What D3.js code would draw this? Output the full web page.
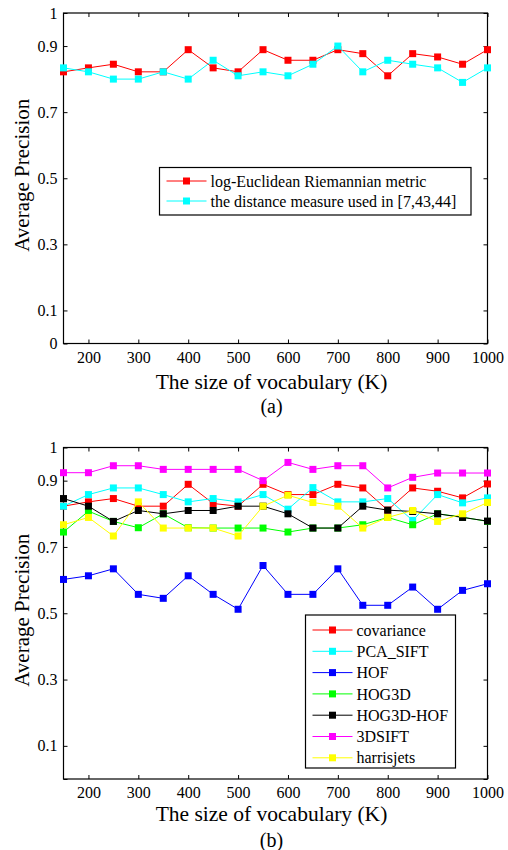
<!DOCTYPE html>
<html>
<head>
<meta charset="utf-8">
<script src="https://cdn.jsdelivr.net/npm/d3@7"></script>
<style>
  html, body { margin: 0; padding: 0; background: #fff; }
  svg { display: block; font-family: "Liberation Serif", "Times New Roman", serif; }
</style>
</head>
<body>
<svg id="chart" width="508" height="850"></svg>
<script>
// Vocabulary sizes (K) shared by both panels
const vocab = [150, 200, 250, 300, 350, 400, 450, 500, 550, 600, 650, 700, 750, 800, 850, 900, 950, 1000];
const xTicks = [200, 300, 400, 500, 600, 700, 800, 900, 1000];
const yTicksA = [0, 0.1, 0.3, 0.5, 0.7, 0.9, 1];
const yTicksB = [0.1, 0.3, 0.5, 0.7, 0.9, 1];
const yTickMarks = [0, 0.1, 0.3, 0.5, 0.7, 0.9, 1];

// Panel (a)
const namesA = ["log-Euclidean Riemannian metric", "the distance measure used in [7,43,44]"];
const colorsA = ["#ff0000", "#00ffff"];
const logEuclidean = [0.822, 0.834, 0.845, 0.822, 0.822, 0.889, 0.834, 0.822, 0.889, 0.857, 0.857, 0.889, 0.877, 0.810, 0.877, 0.867, 0.845, 0.889];
const distanceMeasure = [0.834, 0.822, 0.800, 0.800, 0.822, 0.800, 0.857, 0.810, 0.822, 0.810, 0.845, 0.900, 0.822, 0.857, 0.845, 0.834, 0.790, 0.834];

// Panel (b)
const namesB = ["covariance", "PCA_SIFT", "HOF", "HOG3D", "HOG3D-HOF", "3DSIFT", "harrisjets"];
const colorsB = ["#ff0000", "#00ffff", "#0000ff", "#00ff00", "#000000", "#ff00ff", "#ffff00"];
const covariance = [0.823, 0.836, 0.846, 0.823, 0.823, 0.889, 0.831, 0.823, 0.889, 0.858, 0.858, 0.889, 0.878, 0.811, 0.878, 0.868, 0.848, 0.890];
const pcaSift    = [0.823, 0.858, 0.878, 0.878, 0.858, 0.836, 0.846, 0.836, 0.858, 0.814, 0.879, 0.836, 0.836, 0.846, 0.780, 0.858, 0.833, 0.848];
const hof        = [0.602, 0.613, 0.634, 0.557, 0.545, 0.613, 0.557, 0.512, 0.644, 0.557, 0.557, 0.634, 0.524, 0.524, 0.579, 0.512, 0.569, 0.589];
const hog3d      = [0.745, 0.808, 0.777, 0.758, 0.800, 0.758, 0.757, 0.757, 0.757, 0.745, 0.757, 0.757, 0.767, 0.789, 0.767, 0.800, 0.790, 0.777];
const hog3dHof   = [0.846, 0.823, 0.777, 0.810, 0.800, 0.810, 0.810, 0.823, 0.823, 0.800, 0.757, 0.757, 0.823, 0.811, 0.807, 0.800, 0.789, 0.778];
const sift3d     = [0.924, 0.924, 0.945, 0.945, 0.934, 0.934, 0.934, 0.934, 0.900, 0.955, 0.934, 0.945, 0.945, 0.878, 0.910, 0.923, 0.923, 0.923];
const harrisjets = [0.767, 0.789, 0.733, 0.836, 0.757, 0.757, 0.757, 0.733, 0.823, 0.856, 0.834, 0.823, 0.757, 0.789, 0.810, 0.777, 0.800, 0.834];

const svg = d3.select("#chart");

function drawPanel(cfg) {
  const x = d3.scaleLinear().domain([150, 1000]).range([63.5, 487.5]);
  const y = d3.scaleLinear().domain([0, 1]).range([cfg.bottom, cfg.top]);
  const g = svg.append("g");

  // frame
  g.append("rect")
    .attr("x", x(150)).attr("y", y(1))
    .attr("width", x(1000) - x(150)).attr("height", y(0) - y(1))
    .attr("fill", "none").attr("stroke", "#000").attr("stroke-width", 1.2);

  // axes with inward ticks
  const tick = 4;
  const xb = g.append("g").attr("transform", `translate(0,${y(0)})`)
    .call(d3.axisBottom(x).tickValues(xTicks).tickSize(0).tickPadding(8).tickFormat(d3.format("d")));
  const xt = g.append("g").attr("transform", `translate(0,${y(0)})`)
    .call(d3.axisTop(x).tickValues(xTicks).tickSize(tick).tickFormat(""));
  const xtop = g.append("g").attr("transform", `translate(0,${y(1)})`)
    .call(d3.axisBottom(x).tickValues(xTicks).tickSize(tick).tickFormat(""));
  const yl = g.append("g").attr("transform", `translate(${x(150)},0)`)
    .call(d3.axisLeft(y).tickValues(cfg.yLabels).tickSize(0).tickPadding(6).tickFormat(d => d === 0 || d === 1 ? String(d) : d3.format(".1f")(d)));
  const ylt = g.append("g").attr("transform", `translate(${x(150)},0)`)
    .call(d3.axisRight(y).tickValues(yTickMarks).tickSize(tick).tickFormat(""));
  const yr = g.append("g").attr("transform", `translate(${x(1000)},0)`)
    .call(d3.axisLeft(y).tickValues(yTickMarks).tickSize(tick).tickFormat(""));
  [xb, xt, xtop, yl, ylt, yr].forEach(a => {
    a.select(".domain").remove();
    a.selectAll("line").attr("stroke", "#000");
    a.selectAll("text").attr("font-family", "Liberation Serif").attr("font-size", 16).attr("fill", "#000");
  });

  // series
  const line = d3.line().x((d, i) => x(vocab[i])).y(d => y(d));
  cfg.series.forEach((s, k) => {
    g.append("path").datum(s).attr("d", line)
      .attr("fill", "none").attr("stroke", cfg.colors[k]).attr("stroke-width", 1);
    g.selectAll(null).data(s).enter().append("rect")
      .attr("x", (d, i) => x(vocab[i]) - 3.5).attr("y", d => y(d) - 3.5)
      .attr("width", 7).attr("height", 7).attr("fill", cfg.colors[k]);
  });

  // axis titles
  g.append("text").attr("x", (x(150) + x(1000)) / 2 - 4).attr("y", cfg.xTitleY)
    .attr("text-anchor", "middle").attr("font-size", 21.5).text("The size of vocabulary (K)");
  g.append("text").attr("transform", `translate(29,${(y(0) + y(1)) / 2 - 3}) rotate(-90)`)
    .attr("text-anchor", "middle").attr("font-size", 21).text("Average Precision");
  g.append("text").attr("x", (x(150) + x(1000)) / 2 - 4).attr("y", cfg.capY)
    .attr("text-anchor", "middle").attr("font-size", 20).text(cfg.caption);

  // legend
  const L = cfg.legend;
  g.append("rect").attr("x", L.x).attr("y", L.y).attr("width", L.w).attr("height", L.h)
    .attr("fill", "#fff").attr("stroke", "#000").attr("stroke-width", 1.2);
  cfg.names.forEach((n, k) => {
    const cy = L.y + L.first + k * L.step;
    g.append("line").attr("x1", L.x + 7).attr("x2", L.x + 47).attr("y1", cy).attr("y2", cy)
      .attr("stroke", cfg.colors[k]).attr("stroke-width", 1);
    g.append("rect").attr("x", L.x + 27 - 3.5).attr("y", cy - 3.5).attr("width", 7).attr("height", 7)
      .attr("fill", cfg.colors[k]);
    g.append("text").attr("x", L.x + 51).attr("y", cy).attr("dy", "0.35em")
      .attr("font-size", 16).text(n);
  });
}

drawPanel({
  top: 13, bottom: 343.5, yLabels: yTicksA,
  series: [logEuclidean, distanceMeasure], colors: colorsA, names: namesA,
  xTitleY: 389, capY: 413, caption: "(a)",
  legend: { x: 159.5, y: 167.5, w: 311.5, h: 47.5, first: 13.5, step: 20 }
});

drawPanel({
  top: 447.5, bottom: 779, yLabels: yTicksB,
  series: [covariance, pcaSift, hof, hog3d, hog3dHof, sift3d, harrisjets], colors: colorsB, names: namesB,
  xTitleY: 821, capY: 847, caption: "(b)",
  legend: { x: 305.5, y: 615, w: 150, h: 153, first: 15, step: 21.3 }
});
</script>
</body>
</html>
